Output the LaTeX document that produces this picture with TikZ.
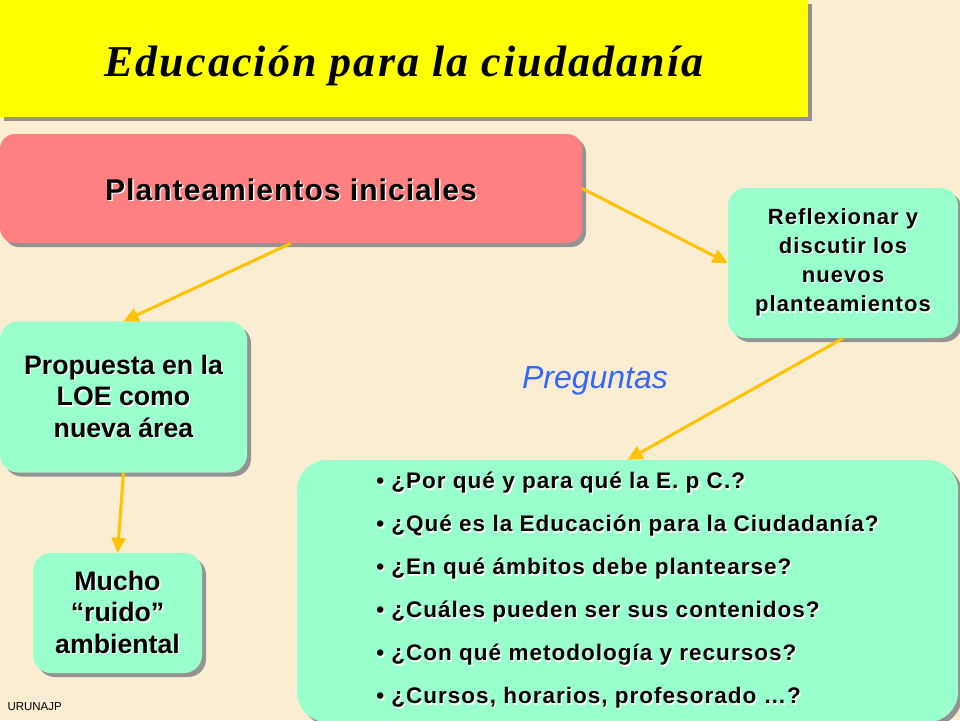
\documentclass[tikz,border=0pt]{standalone}
\usepackage{fontspec}
\setmainfont{Liberation Sans}
\newfontfamily\titlefont[LetterSpace=4.8]{Liberation Serif}
\newfontfamily\plantfont[LetterSpace=3.5]{Liberation Sans}
\newfontfamily\reflexfont[LetterSpace=5]{Liberation Sans}
\newfontfamily\listafont[LetterSpace=4.5]{Liberation Sans}
\usetikzlibrary{positioning}
\usetikzlibrary{arrows.meta}
\usetikzlibrary{shadows}

\definecolor{parchment}{RGB}{250,237,210}
\definecolor{titleyellow}{RGB}{255,255,0}
\definecolor{salmon}{RGB}{255,128,128}
\definecolor{aqua}{RGB}{153,255,204}
\definecolor{gold}{RGB}{255,194,0}
\definecolor{qblue}{RGB}{51,102,255}

% texto con sombra blanca
\newcommand{\sombreado}[1]{\makebox[0pt][l]{\kern1.3pt\raisebox{-1.3pt}{\textcolor{white}{#1}}}#1}

\tikzset{
  sombra/.style={drop shadow={shadow xshift=4pt, shadow yshift=-4pt, fill=gray!85, opacity=1}},
  caja/.style={rounded corners=18pt, fill=aqua, align=center, sombra,
    font=\bfseries\fontsize{26.7}{31.5}\selectfont},
  flecha/.style={draw=gold, line width=3pt, -{Triangle[length=15pt,width=14pt]}},
}

\begin{document}
\begin{tikzpicture}[x=1pt, y=-1pt]
  \fill[parchment] (0,0) rectangle (960,720);
  \useasboundingbox (0,0) rectangle (960,720);

  % titulo
  \node[fill=titleyellow, sombra, minimum width=808pt, minimum height=117pt,
    font=\titlefont\bfseries\itshape\fontsize{44}{50}\selectfont] (titulo) at (404,58.5)
    {\raisebox{-7pt}[\height][\depth]{Educación para la ciudadanía}};

  % cajas
  \node[caja, fill=salmon, rounded corners=15pt, minimum width=582pt, minimum height=109pt,
    font=\plantfont\bfseries\fontsize{30}{34}\selectfont] (plant) at (291,188.5)
    {\raisebox{-2pt}[\height][\depth]{\sombreado{Planteamientos iniciales}}};
  \node[caja, minimum width=230pt, minimum height=150pt,
    font=\reflexfont\bfseries\fontsize{22}{29.3}\selectfont] (reflex) at (843,263)
    {\sombreado{Reflexionar y}\\\sombreado{discutir los}\\\sombreado{nuevos}\\\sombreado{planteamientos}};
  \node[caja, minimum width=247pt, minimum height=151pt] (propuesta) at (123.5,397)
    {\sombreado{Propuesta en la}\\\sombreado{LOE como}\\\sombreado{nueva área}};
  \node[caja, minimum width=169pt, minimum height=120pt] (mucho) at (117.5,613)
    {\sombreado{Mucho}\\\sombreado{“ruido”}\\\sombreado{ambiental}};
  \node[caja, rounded corners=30pt, minimum width=661pt, minimum height=262pt, align=left,
    font=\listafont\bfseries\fontsize{22.5}{43}\selectfont] (lista) at (627.5,591)
    {\sombreado{• ¿Por qué y para qué la E. p C.?}\\
     \sombreado{• ¿Qué es la Educación para la Ciudadanía?}\\
     \sombreado{• ¿En qué ámbitos debe plantearse?}\\
     \sombreado{• ¿Cuáles pueden ser sus contenidos?}\\
     \sombreado{• ¿Con qué metodología y recursos?}\\
     \sombreado{• ¿Cursos, horarios, profesorado …?}};

  \node[text=qblue, font=\itshape\fontsize{32}{36}\selectfont] (preguntas) at (595,381) {Preguntas};
  \node[anchor=west, font=\fontsize{11.5}{13}\selectfont] (firma) at (4,707) {URUNAJP};

  % flechas
  \draw[flecha] (plant.south) -- (propuesta.north);
  \draw[flecha] (plant.east) -- (reflex.west);
  \draw[flecha] (reflex.south) -- (lista.north);
  \draw[flecha] (propuesta.south) -- (mucho.north);
\end{tikzpicture}
\end{document}
